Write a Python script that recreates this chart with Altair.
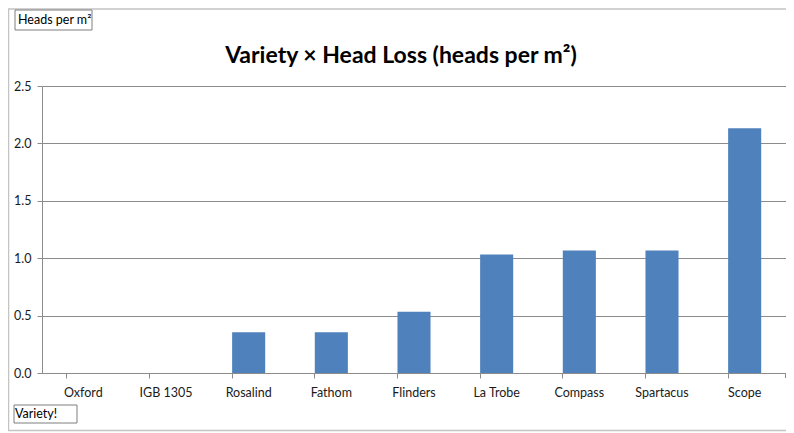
import altair as alt
import pandas as pd

varieties = ["Oxford", "IGB 1305", "Rosalind", "Fathom", "Flinders",
             "La Trobe", "Compass", "Spartacus", "Scope"]
head_loss = [0.0, 0.0, 0.356, 0.356, 0.533, 1.033, 1.067, 1.067, 2.133]
y_ticks = [0.0, 0.5, 1.0, 1.5, 2.0, 2.5]
title_text = "Variety × Head Loss (heads per m²)"
y_title = "Heads per m²"
x_title = "Variety!"

FONT = "Lato"
W, H = 744, 287
GRID = "#8c8c8c"

df = pd.DataFrame({"Variety": varieties, "Loss": head_loss})

bars = alt.Chart(df).mark_bar(color="#4F81BD").encode(
    x=alt.X("Variety:N", sort=varieties,
            scale=alt.Scale(paddingInner=0.6, paddingOuter=0.3),
            axis=alt.Axis(title=None, labelAngle=0, bandPosition=0, tickSize=5,
                          tickColor=GRID, domainColor=GRID, labelFont=FONT,
                          labelFontSize=12.5, labelColor="#1a1a1a", labelPadding=8,
                          grid=False)),
    y=alt.Y("Loss:Q", scale=alt.Scale(domain=[0, 2.5], nice=False),
            axis=alt.Axis(title=None, values=y_ticks, format=".1f", tickSize=5,
                          tickColor=GRID, domainColor=GRID, gridColor=GRID,
                          labelFont=FONT, labelFontSize=12.5, labelColor="#1a1a1a",
                          labelPadding=6)),
)

end_tick = alt.Chart(df.head(1)).mark_rule(color=GRID).encode(
    x=alt.value(W - 0.5), y=alt.value(H), y2=alt.value(H + 5))

title = alt.Chart(pd.DataFrame({"t": [title_text]})).mark_text(
    font=FONT, fontSize=23, fontWeight="bold", color="#000000",
    align="center", baseline="middle").encode(
    text="t:N", x=alt.value(359), y=alt.value(-30))

ybox = alt.Chart(pd.DataFrame({"t": [y_title]})).mark_rect(
    fill="white", stroke="#7f7f7f", strokeWidth=1).encode(
    x=alt.value(-27), x2=alt.value(50), y=alt.value(-76), y2=alt.value(-56))
ytxt = alt.Chart(pd.DataFrame({"t": [y_title]})).mark_text(
    font=FONT, fontSize=12.5, color="#000000", align="left", baseline="middle").encode(
    text="t:N", x=alt.value(-24), y=alt.value(-66))

xbox = alt.Chart(pd.DataFrame({"t": [x_title]})).mark_rect(
    fill="white", stroke="#7f7f7f", strokeWidth=1).encode(
    x=alt.value(-28), x2=alt.value(35), y=alt.value(319), y2=alt.value(337))
xtxt = alt.Chart(pd.DataFrame({"t": [x_title]})).mark_text(
    font=FONT, fontSize=12.5, color="#000000", align="left", baseline="middle").encode(
    text="t:N", x=alt.value(-27), y=alt.value(328))

border = alt.Chart(pd.DataFrame({"t": [""]})).mark_rect(
    fill=None, stroke="#c4c4c4", strokeWidth=1.5).encode(
    x=alt.value(-33.5), x2=alt.value(770), y=alt.value(-77), y2=alt.value(344.5))

chart = alt.layer(border, bars, end_tick, title, ybox, ytxt, xbox, xtxt).properties(
    width=W, height=H,
    autosize=alt.AutoSizeParams(type="none"),
    padding={"left": 34, "top": 78, "right": 0, "bottom": 60},
).configure_view(stroke=None).configure_axis(gridWidth=1)

chart.save("out.html", embed_options={"renderer": "svg", "actions": False})
